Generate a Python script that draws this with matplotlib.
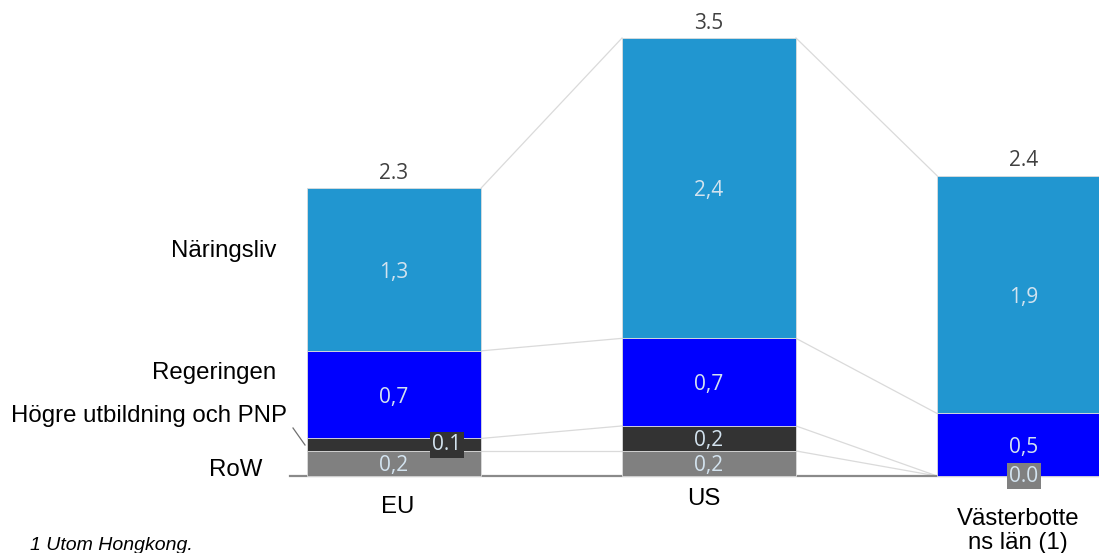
import matplotlib
matplotlib.use("Agg")
import matplotlib.pyplot as plt
import numpy as np

# Data (billions / per cent of GDP style values)
categories = ["EU", "US", "Västerbotte\nns län (1)"]
segments = ["RoW", "Högre utbildning och PNP", "Regeringen", "Näringsliv"]
row_vals = [0.2, 0.2, 0.0]
higher_ed = [0.1, 0.2, 0.0]
government = [0.7, 0.7, 0.5]
business = [1.3, 2.4, 1.9]
totals = [2.3, 3.5, 2.4]

colors = ["#808080", "#333333", "#0000ff", "#2196d0"]
series = [row_vals, higher_ed, government, business]

W, H = 1099, 553
fig = plt.figure(figsize=(W / 100, H / 100), dpi=100)
ax = fig.add_axes([0, 0, 1, 1])
ax.set_axis_off()

# pixel-to-data layout
x0_px, step_px, base_px, unit_px = 394, 315, 476, 125.14
ax.set_xlim((0 - x0_px) / step_px, (W - x0_px) / step_px)
ax.set_ylim((base_px - H) / unit_px, base_px / unit_px)

x = np.arange(len(categories))
bw = 174 / step_px

val_font = "Open Sans"
lab_font = "Liberation Sans"
val_col = "#d3e3ef"
val_size = 15

bottom = np.zeros(len(categories))
tops = []
for vals, col in zip(series, colors):
    v = np.array(vals)
    ax.bar(x, v, bw, bottom=bottom, color=col, edgecolor="#dcdcdc",
           linewidth=0.6, zorder=3)
    bottom = bottom + v
    tops.append(bottom.copy())

# connector lines between neighbouring bars
for t in tops:
    for i in range(len(categories) - 1):
        ax.plot([x[i] + bw / 2, x[i + 1] - bw / 2], [t[i], t[i + 1]],
                color="#dadada", lw=0.9, zorder=1)

# baseline
ax.plot([(290 - x0_px) / step_px, (W - x0_px) / step_px], [0, 0],
        color="#8a8a8a", lw=1.6, zorder=2)

# segment value labels
def fmt(v):
    return f"{v:.1f}".replace(".", ",")

cum = np.zeros(len(categories))
for si, vals in enumerate(series):
    for i, v in enumerate(vals):
        mid = cum[i] + v / 2
        if si == 1 and i == 0:
            ax.text(x[i] + 0.168, mid, f"{v:.1f}", ha="center", va="center",
                    fontsize=val_size, family=val_font, color=val_col, zorder=5,
                    bbox=dict(boxstyle="square,pad=0.12", fc="#333333", ec="none"))
        elif si == 0 and i == 2:
            ax.text(x[i], mid, f"{v:.1f}", ha="center", va="center",
                    fontsize=val_size, family=val_font, color=val_col, zorder=5,
                    bbox=dict(boxstyle="square,pad=0.12", fc="#808080", ec="none"))
        elif v > 0:
            ax.text(x[i], mid - 0.02, fmt(v), ha="center", va="center",
                    fontsize=val_size, family=val_font, color=val_col, zorder=5)
    cum = cum + np.array(vals)

# totals above bars
for i, t in enumerate(totals):
    ax.text(x[i], t + 0.035, f"{t:.1f}", ha="center", va="bottom",
            fontsize=val_size, family=val_font, color="#404040", zorder=5)

# category labels
cat_y = [(base_px - 507) / unit_px, (base_px - 499) / unit_px,
         (base_px - 531) / unit_px]
cat_x = [x[0] + 4 / step_px, x[1] - 5 / step_px, x[2] - 6 / step_px]
for cx, cy, c in zip(cat_x, cat_y, categories):
    ax.text(cx, cy, c, ha="center", va="center", fontsize=17.3,
            family=lab_font, color="black", linespacing=1.15)

# segment names on the left
def px2x(px):
    return (px - x0_px) / step_px

def py2y(py):
    return (base_px - py) / unit_px

left_labels = [("Näringsliv", 276, 251), ("Regeringen", 276, 373),
               ("Högre utbildning och PNP", 287, 416), ("RoW", 262, 470)]
for txt, rx, cy in left_labels:
    ax.text(px2x(rx), py2y(cy), txt, ha="right", va="center", fontsize=17.3,
            family=lab_font, color="black")
ax.plot([px2x(293), px2x(305)], [py2y(428), py2y(445)], color="#707070", lw=0.9)

# footnote
fig.text(30 / W, 1 - 545 / H, "1 Utom Hongkong.", ha="left", va="center",
         fontsize=14, family=lab_font, style="italic", color="black")

fig.savefig("out.png", dpi=100, facecolor="white")
